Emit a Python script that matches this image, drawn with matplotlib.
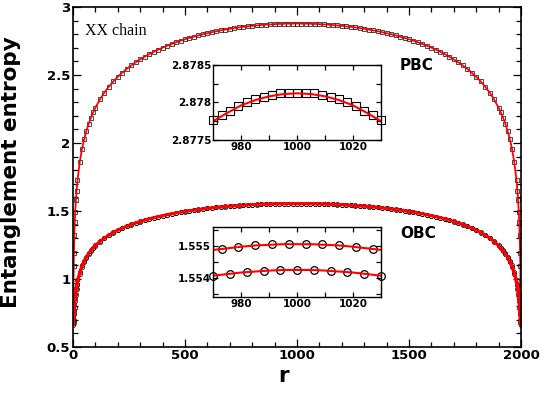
import matplotlib
matplotlib.use("Agg")
import matplotlib.pyplot as plt
from matplotlib.ticker import MultipleLocator, FixedLocator, FuncFormatter

plt.rcParams['font.family'] = 'DejaVu Sans'
plt.rcParams['font.weight'] = 'bold'

# --- main panel: entropy vs block length r (N = 2000) ---
r = [1, 2, 3, 4, 6, 8, 10, 13, 16,
     20, 30, 40, 50, 60, 70, 80, 90, 100,
     120, 140, 160, 180, 200, 220, 240, 260, 280, 300, 320, 340, 360, 380, 400,
     420, 440, 460, 480, 500, 520, 540, 560, 580, 600, 620, 640, 660, 680, 700,
     720, 740, 760, 780, 800, 820, 840, 860, 880, 900, 920, 940, 960, 980, 1000,
     1020, 1040, 1060, 1080, 1100, 1120, 1140, 1160, 1180, 1200, 1220, 1240,
     1260, 1280, 1300, 1320, 1340, 1360, 1380, 1400, 1420, 1440, 1460, 1480,
     1500, 1520, 1540, 1560, 1580, 1600, 1620, 1640, 1660, 1680, 1700, 1720,
     1740, 1760, 1780, 1800, 1820, 1840, 1860, 1880,
     1900, 1910, 1920, 1930, 1940, 1950, 1960, 1970, 1980,
     1984, 1987, 1990, 1992, 1994, 1996, 1997, 1998, 1999]

pbc = [0.693, 0.957, 1.092, 1.188, 1.323, 1.419, 1.494, 1.581, 1.650,
       1.7246, 1.8596, 1.9555, 2.0297, 2.0903, 2.1415, 2.1858, 2.2249, 2.2597,
       2.3199, 2.3706, 2.4143, 2.4526, 2.4866, 2.5172, 2.5450, 2.5703, 2.5935, 2.6149,
       2.6347, 2.6530, 2.6701, 2.6861, 2.7010, 2.7149, 2.7280, 2.7403, 2.7518, 2.7626,
       2.7727, 2.7823, 2.7912, 2.7996, 2.8075, 2.8148, 2.8217, 2.8281, 2.8341, 2.8396,
       2.8448, 2.8495, 2.8538, 2.8578, 2.8614, 2.8646, 2.8675, 2.8700, 2.8721, 2.8740,
       2.8755, 2.8766, 2.8774, 2.8779, 2.8781,
       2.8779, 2.8774, 2.8766, 2.8755,
       2.8740, 2.8721, 2.8700, 2.8675, 2.8646, 2.8614, 2.8578, 2.8538, 2.8495, 2.8448,
       2.8396, 2.8341, 2.8281, 2.8217, 2.8148, 2.8075, 2.7996, 2.7912, 2.7823, 2.7727,
       2.7626, 2.7518, 2.7403, 2.7280, 2.7149, 2.7010, 2.6861, 2.6701, 2.6530, 2.6347,
       2.6149, 2.5935, 2.5703, 2.5450, 2.5172, 2.4866, 2.4526, 2.4143, 2.3706, 2.3199,
       2.2597, 2.2249, 2.1858, 2.1415, 2.0903, 2.0297, 1.9555, 1.8596, 1.7246,
       1.650, 1.581, 1.494, 1.419, 1.323, 1.188, 1.092, 0.957, 0.693]

# OBC has an odd/even alternation: upper (odd r) and lower (even r) branches
obc_odd = [0.693, 0.7215, 0.7467, 0.7734, 0.8197, 0.8570, 0.8879, 0.9257, 0.9567,
           0.9906, 1.0540, 1.0998, 1.1356, 1.1650, 1.1900, 1.2118, 1.2309, 1.2481,
           1.2777, 1.3027, 1.3244, 1.3433, 1.3603, 1.3755, 1.3893, 1.4018, 1.4133, 1.4240,
           1.4338, 1.4430, 1.4515, 1.4594, 1.4668, 1.4738, 1.4803, 1.4864, 1.4921, 1.4975,
           1.5025, 1.5073, 1.5118, 1.5159, 1.5199, 1.5236, 1.5270, 1.5302, 1.5332, 1.5360,
           1.5384, 1.5408, 1.5430, 1.5449, 1.5467, 1.5484, 1.5498, 1.5510, 1.5521, 1.5530,
           1.5538, 1.5544, 1.5548, 1.5550, 1.5551,
           1.5550, 1.5548, 1.5544, 1.5538,
           1.5530, 1.5521, 1.5510, 1.5498, 1.5484, 1.5467, 1.5449, 1.5430, 1.5408, 1.5384,
           1.5360, 1.5332, 1.5302, 1.5270, 1.5236, 1.5199, 1.5159, 1.5118, 1.5073, 1.5025,
           1.4975, 1.4921, 1.4864, 1.4803, 1.4738, 1.4668, 1.4594, 1.4515, 1.4430, 1.4338,
           1.4240, 1.4133, 1.4018, 1.3893, 1.3755, 1.3603, 1.3433, 1.3244, 1.3027, 1.2777,
           1.2481, 1.2309, 1.2118, 1.1900, 1.1650, 1.1356, 1.0998, 1.0540, 0.9906,
           0.9567, 0.9257, 0.8879, 0.8570, 0.8197, 0.7734, 0.7467, 0.7215, 0.693]

obc_even = [0.693, 0.66, 0.68, 0.70, 0.745, 0.79, 0.835, 0.885, 0.925,
            0.9652, 1.0370, 1.0870, 1.1254, 1.1566, 1.1828, 1.2054, 1.2253, 1.2429,
            1.2735, 1.2991, 1.3212, 1.3405, 1.3577, 1.3731, 1.3871, 1.3998, 1.4115, 1.4222,
            1.4322, 1.4414, 1.4499, 1.4580, 1.4654, 1.4724, 1.4791, 1.4852, 1.4909, 1.4963,
            1.5015, 1.5063, 1.5108, 1.5149, 1.5189, 1.5226, 1.5260, 1.5292, 1.5322, 1.5350,
            1.5376, 1.5400, 1.5422, 1.5441, 1.5459, 1.5476, 1.5490, 1.5502, 1.5513, 1.5522,
            1.5530, 1.5536, 1.5540, 1.5542, 1.5543,
            1.5542, 1.5540, 1.5536, 1.5530,
            1.5522, 1.5513, 1.5502, 1.5490, 1.5476, 1.5459, 1.5441, 1.5422, 1.5400, 1.5376,
            1.5350, 1.5322, 1.5292, 1.5260, 1.5226, 1.5189, 1.5149, 1.5108, 1.5063, 1.5015,
            1.4963, 1.4909, 1.4852, 1.4791, 1.4724, 1.4654, 1.4580, 1.4499, 1.4414, 1.4322,
            1.4222, 1.4115, 1.3998, 1.3871, 1.3731, 1.3577, 1.3405, 1.3212, 1.2991, 1.2735,
            1.2429, 1.2253, 1.2054, 1.1828, 1.1566, 1.1254, 1.0870, 1.0370, 0.9652,
            0.925, 0.885, 0.835, 0.79, 0.745, 0.70, 0.68, 0.66, 0.693]

# --- insets around r = 1000 ---
r_pbc_in = [970, 973, 976, 979, 982, 985, 988, 991, 994, 997, 1000,
            1003, 1006, 1009, 1012, 1015, 1018, 1021, 1024, 1027, 1030]
pbc_in = [2.87776, 2.87783, 2.87789, 2.87795, 2.87800, 2.87804, 2.87807, 2.87810,
          2.87812, 2.87813, 2.87813, 2.87813, 2.87812, 2.87810, 2.87807, 2.87804,
          2.87800, 2.87795, 2.87789, 2.87783, 2.87776]

r_fit_in = [970, 975, 980, 985, 990, 995, 1000, 1005, 1010, 1015, 1020, 1025, 1030]
pbc_fit_in = [2.87775, 2.87786, 2.87796, 2.87803, 2.87808, 2.87811, 2.87812,
              2.87811, 2.87808, 2.87803, 2.87796, 2.87786, 2.87775]

r_odd_in = [973, 979, 985, 991, 997, 1003, 1009, 1015, 1021, 1027]
obc_odd_in = [1.55491, 1.55497, 1.55502, 1.55505, 1.55506,
              1.55506, 1.55505, 1.55502, 1.55497, 1.55491]
r_even_in = [970, 976, 982, 988, 994, 1000, 1006, 1012, 1018, 1024, 1030]
obc_even_in = [1.55406, 1.55413, 1.55418, 1.55422, 1.55424, 1.55425,
               1.55424, 1.55422, 1.55418, 1.55413, 1.55406]
obc_odd_fit = [1.55488, 1.55493, 1.55498, 1.55502, 1.55504, 1.55506, 1.55506,
               1.55506, 1.55504, 1.55502, 1.55498, 1.55493, 1.55488]
obc_even_fit = [1.55407, 1.55412, 1.55417, 1.55420, 1.55423, 1.55425, 1.55425,
                1.55425, 1.55423, 1.55420, 1.55417, 1.55412, 1.55407]

W, H = 545, 396


def px_axes(x0, y0, x1, y1):
    # rectangle given in pixel coords (top-left origin)
    return [x0 / W, 1 - y1 / H, (x1 - x0) / W, (y1 - y0) / H]


def style_axes(a, lw=1.1, major=5, minor=3):
    for s in a.spines.values():
        s.set_linewidth(lw)
    a.tick_params(which='both', direction='in', top=True, right=True, width=0.9)
    a.tick_params(which='major', length=major)
    a.tick_params(which='minor', length=minor)


fig = plt.figure(figsize=(W / 100, H / 100), dpi=100)
ax = fig.add_axes(px_axes(73, 7, 521, 347))

ax.plot(r, pbc, ls='none', marker='s', ms=3.0, mfc='none', mec='black', mew=0.5)
ax.plot(r, obc_odd, ls='none', marker='o', ms=3.0, mfc='none', mec='black', mew=0.5)
ax.plot(r, obc_even, ls='none', marker='o', ms=3.0, mfc='none', mec='black', mew=0.5)
ax.plot(r, pbc, color='red', lw=1.3)
ax.plot(r, obc_odd, color='red', lw=2.0)
ax.plot(r, obc_even, color='red', lw=2.0)

ax.set_xlim(0, 2000)
ax.set_ylim(0.5, 3)
ax.xaxis.set_major_locator(MultipleLocator(500))
ax.xaxis.set_minor_locator(MultipleLocator(100))
ax.yaxis.set_major_locator(MultipleLocator(0.5))
ax.yaxis.set_minor_locator(MultipleLocator(0.1))
fmt = FuncFormatter(lambda v, p: '%g' % v)
ax.xaxis.set_major_formatter(fmt)
ax.yaxis.set_major_formatter(fmt)
style_axes(ax, lw=1.2, major=6, minor=3.5)
ax.tick_params(labelsize=9.5, pad=2)
ax.tick_params(axis='x', pad=1.2)

fig.text(11 / W, 1 - 172 / H, 'Entanglement entropy', rotation=90,
         ha='center', va='center', fontsize=15.5, fontweight='bold')
fig.text(284 / W, 1 - 382 / H, 'r', ha='center', va='baseline',
         fontsize=15.5, fontweight='bold')
fig.text(85 / W, 1 - 31 / H, 'XX chain', ha='left', va='center',
         family='Liberation Serif', fontweight='normal', fontsize=11.5)
fig.text(400 / W, 1 - 65 / H, 'PBC', ha='left', va='center',
         fontsize=11, fontweight='bold')
fig.text(400 / W, 1 - 234 / H, 'OBC', ha='left', va='center',
         fontsize=11, fontweight='bold')

# PBC inset
ax1 = fig.add_axes(px_axes(213.3, 64.7, 381, 140))
ax1.plot(r_pbc_in, pbc_in, ls='none', marker='s', ms=6, mfc='none',
         mec='black', mew=0.8, clip_on=False)
ax1.plot(r_fit_in, pbc_fit_in, color='red', lw=1.5)
ax1.set_xlim(970, 1030)
ax1.set_ylim(2.8775, 2.8785)
ax1.xaxis.set_major_locator(FixedLocator([980, 1000, 1020]))
ax1.xaxis.set_minor_locator(FixedLocator([990, 1010]))
ax1.yaxis.set_major_locator(FixedLocator([2.8775, 2.878, 2.8785]))
ax1.yaxis.set_minor_locator(FixedLocator([2.87775, 2.87825]))
ax1.xaxis.set_major_formatter(fmt)
ax1.yaxis.set_major_formatter(fmt)
style_axes(ax1, lw=1.0, major=3.5, minor=3.5)
ax1.tick_params(labelsize=7.5, pad=1.5)

# OBC inset
ax2 = fig.add_axes(px_axes(213.3, 227, 381, 297))
ax2.plot(r_odd_in, obc_odd_in, ls='none', marker='o', ms=5.5, mfc='none',
         mec='black', mew=0.9, clip_on=False)
ax2.plot(r_even_in, obc_even_in, ls='none', marker='o', ms=5.5, mfc='none',
         mec='black', mew=0.9, clip_on=False)
ax2.plot(r_fit_in, obc_odd_fit, color='red', lw=1.5)
ax2.plot(r_fit_in, obc_even_fit, color='red', lw=1.5)
ax2.set_xlim(970, 1030)
ax2.set_ylim(1.5534, 1.5556)
ax2.xaxis.set_major_locator(FixedLocator([980, 1000, 1020]))
ax2.xaxis.set_minor_locator(FixedLocator([990, 1010]))
ax2.yaxis.set_major_locator(FixedLocator([1.554, 1.555]))
ax2.yaxis.set_minor_locator(FixedLocator([1.5545, 1.5535, 1.5555]))
ax2.xaxis.set_major_formatter(fmt)
ax2.yaxis.set_major_formatter(fmt)
style_axes(ax2, lw=1.0, major=3.5, minor=3.5)
ax2.tick_params(labelsize=7.5, pad=1.5)

fig.savefig('out.png', dpi=100)
